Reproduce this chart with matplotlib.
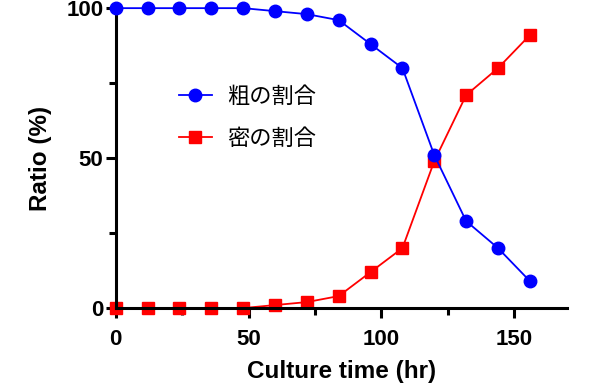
import matplotlib.pyplot as plt
import numpy as np

plt.rcParams['font.family'] = ['Liberation Sans', 'Noto Sans CJK JP', 'DejaVu Sans']

time = [0, 12, 24, 36, 48, 60, 72, 84, 96, 108, 120, 132, 144, 156]
coarse = [100, 100, 100, 100, 100, 99, 98, 96, 88, 80, 51, 29, 20, 9]
dense = [0, 0, 0, 0, 0, 1, 2, 4, 12, 20, 49, 71, 80, 91]
labels = ['粗の割合', '密の割合']

fig = plt.figure(figsize=(6, 3.88), dpi=100)
ax = fig.add_axes([0.193, 0.206, 0.752, 0.773])

ax.plot(time, coarse, color='#0000ff', marker='o', markersize=9, linewidth=1.3,
        clip_on=False, zorder=3, label=labels[0])
ax.plot(time, dense, color='#ff0000', marker='s', markersize=8.5, linewidth=1.3,
        clip_on=False, zorder=2, label=labels[1])

ax.set_xlim(0, 170)
ax.set_ylim(0, 100)
ax.set_xticks([0, 50, 100, 150])
ax.set_xticks([25, 75, 125], minor=True)
ax.set_yticks([0, 50, 100])
ax.set_yticks([25, 75], minor=True)

for s in ['top', 'right']:
    ax.spines[s].set_visible(False)
for s in ['left', 'bottom']:
    ax.spines[s].set_linewidth(2.2)

ax.tick_params(which='major', length=7, width=2.2, labelsize=16)
ax.tick_params(axis='x', which='major', pad=8)
ax.tick_params(axis='y', which='major', pad=2)
ax.tick_params(which='minor', length=5, width=2.2)
for t in ax.get_xticklabels() + ax.get_yticklabels():
    t.set_fontweight('bold')

ax.set_xlabel('Culture time (hr)', fontsize=17.5, fontweight='bold', labelpad=7)
ax.set_ylabel('Ratio (%)', fontsize=17.5, fontweight='bold', labelpad=10)

leg = ax.legend(loc='upper left', bbox_to_anchor=(0.095, 0.81), frameon=False,
                handlelength=1.5, handletextpad=0.7, labelspacing=0.85,
                prop={'family': ['Noto Sans CJK JP'], 'size': 16})

fig.savefig('out.png', dpi=100)
